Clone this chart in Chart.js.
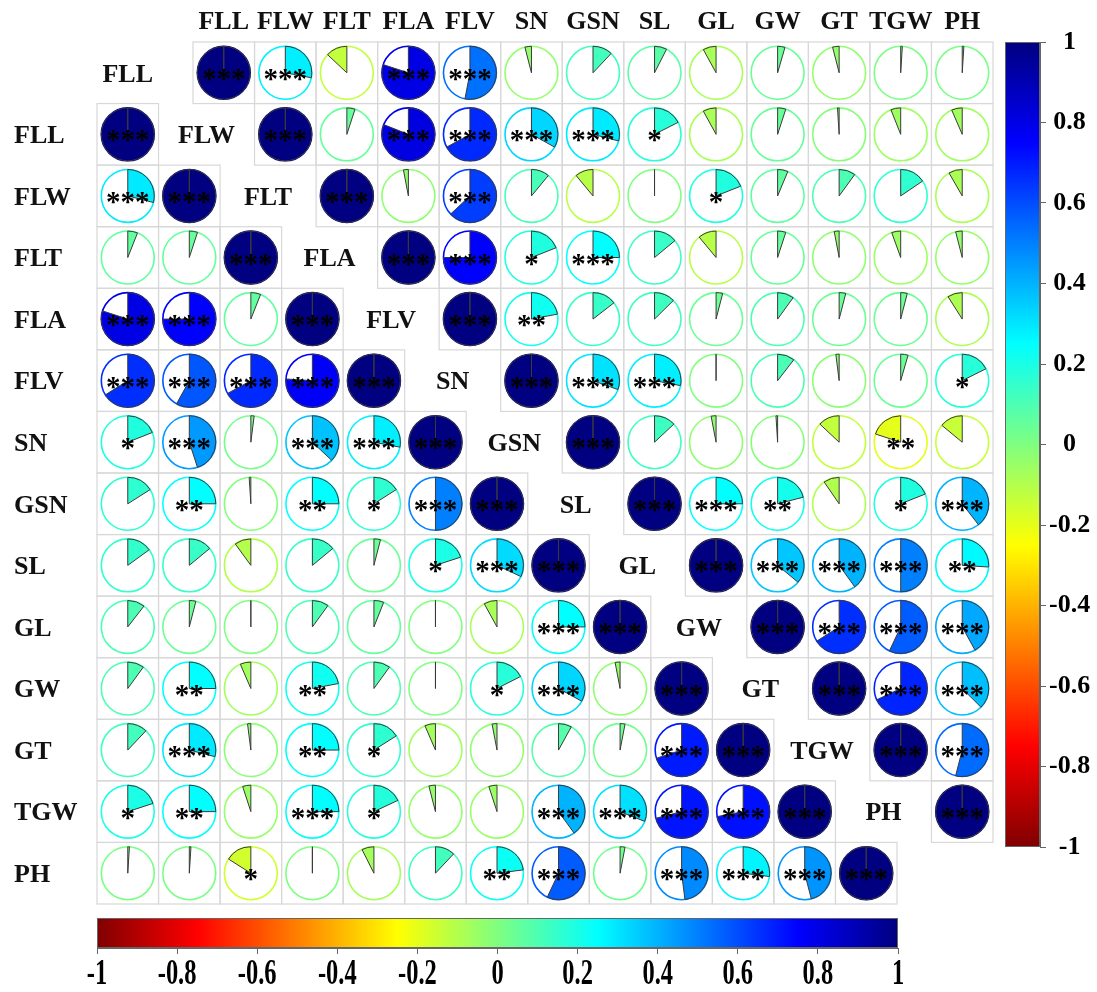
<!DOCTYPE html>
<html lang="pt-BR">
<head>
<meta charset="utf-8">
<title>Matriz de correlação</title>
<script src="https://cdn.jsdelivr.net/npm/chart.js@4.4.1/dist/chart.umd.min.js"></script>
<style>
  body { margin: 0; background: #fff; }
  #quadro { position: relative; width: 1097px; height: 992px; }
  #quadro canvas { position: absolute; }
</style>
</head>
<body>
<div id="quadro">
  <canvas id="graficoMatriz" width="1097" height="992" style="left:0;top:0"></canvas>
  <canvas id="barraDireita" width="107" height="992" style="left:990px;top:0"></canvas>
  <canvas id="barraInferior" width="1097" height="92" style="left:0;top:900px"></canvas>
</div>
<script>
// Variáveis
const variaveis = ["FLL", "FLW", "FLT", "FLA", "FLV", "SN", "GSN", "SL", "GL", "GW", "GT", "TGW", "PH"];

// Matriz superior: linha i, colunas j > i
const corrSuperior = [
  [0.28, -0.13, 0.80, 0.53, -0.04, 0.12, 0.075, -0.08, 0.045, -0.04, 0.01, 0.01],
  [0.05, 0.81, 0.67, 0.33, 0.29, 0.175, -0.08, 0.05, -0.01, -0.06, -0.065],
  [-0.03, 0.63, 0.11, -0.11, 0.0, 0.19, 0.063, 0.10, 0.155, -0.083],
  [0.75, 0.19, 0.25, 0.14, -0.11, 0.05, -0.03, -0.055, -0.04],
  [0.22, 0.145, 0.126, 0.04, 0.10, 0.04, 0.04, -0.09],
  [0.305, 0.28, 0.0, 0.105, -0.02, 0.045, 0.176],
  [0.13, -0.03, -0.01, -0.13, -0.20, -0.14],
  [0.25, 0.21, -0.096, 0.19, 0.395],
  [0.36, 0.40, 0.50, 0.26],
  [0.66, 0.57, 0.42],
  [0.68, 0.375],
  [0.54],
  []
];
const sigSuperior = [
  ["***", "", "***", "***", "", "", "", "", "", "", "", ""],
  ["", "***", "***", "***", "***", "*", "", "", "", "", ""],
  ["", "***", "", "", "", "*", "", "", "", ""],
  ["***", "*", "***", "", "", "", "", "", ""],
  ["**", "", "", "", "", "", "", ""],
  ["***", "***", "", "", "", "", "*"],
  ["", "", "", "", "**", ""],
  ["***", "**", "", "*", "***"],
  ["***", "***", "***", "**"],
  ["***", "***", "***"],
  ["***", "***"],
  ["***"],
  []
];

// Matriz inferior: linha i, colunas j < i
const corrInferior = [
  [],
  [0.29],
  [0.06, 0.05],
  [0.80, 0.75, 0.06],
  [0.66, 0.58, 0.67, 0.76],
  [0.19, 0.45, 0.02, 0.37, 0.28],
  [0.16, 0.25, -0.01, 0.25, 0.16, 0.50],
  [0.15, 0.14, -0.10, 0.14, 0.04, 0.20, 0.32],
  [0.105, 0.04, 0.0, 0.10, 0.06, 0.0, -0.08, 0.25],
  [0.10, 0.25, -0.065, 0.22, 0.10, 0.0, 0.175, 0.33, -0.03],
  [0.12, 0.29, -0.02, 0.25, 0.16, -0.065, -0.03, 0.08, 0.03, 0.70],
  [0.20, 0.25, -0.05, 0.25, 0.18, -0.04, -0.05, 0.40, 0.31, 0.71, 0.72],
  [0.01, 0.01, -0.16, 0.0, -0.074, 0.12, 0.23, 0.57, 0.03, 0.48, 0.27, 0.46]
];
const sigInferior = [
  [],
  ["***"],
  ["", ""],
  ["***", "***", ""],
  ["***", "***", "***", "***"],
  ["*", "***", "", "***", "***"],
  ["", "**", "", "**", "*", "***"],
  ["", "", "", "", "", "*", "***"],
  ["", "", "", "", "", "", "", "***"],
  ["", "**", "", "**", "", "", "*", "***", ""],
  ["", "***", "", "**", "*", "", "", "", "", "***"],
  ["*", "**", "", "***", "*", "", "", "***", "***", "***", "***"],
  ["", "", "*", "", "", "", "**", "***", "", "***", "***", "***"]
];

// Barras de cores
const ticksBarra = [-1, -0.8, -0.6, -0.4, -0.2, 0, 0.2, 0.4, 0.6, 0.8, 1];
const rotulosBarra = ["-1", "-0.8", "-0.6", "-0.4", "-0.2", "0", "0.2", "0.4", "0.6", "0.8", "1"];

const FONTE = '"Liberation Serif", "Times New Roman", serif';
const DESLOC = 1.56; // deslocamento horizontal da matriz superior (em células)

// Mapa de cores tipo "jet": +1 azul escuro, -1 vermelho escuro
function corJet(r) {
  const t = (1 - r) / 2;
  const c = v => Math.round(255 * Math.min(1, Math.max(0, v)));
  return `rgb(${c(1.5 - Math.abs(4 * t - 3))},${c(1.5 - Math.abs(4 * t - 2))},${c(1.5 - Math.abs(4 * t - 1))})`;
}

// Montar pontos das duas matrizes
const pontosSup = [];
const pontosInf = [];
variaveis.forEach((nome, i) => {
  for (let j = i; j < variaveis.length; j++) {
    const diag = j === i;
    pontosSup.push({ x: j + DESLOC, y: i, r: diag ? 1 : corrSuperior[i][j - i - 1], sig: diag ? "***" : sigSuperior[i][j - i - 1] });
  }
  for (let j = 0; j <= i; j++) {
    const diag = j === i;
    pontosInf.push({ x: j, y: i + 1, r: diag ? 1 : corrInferior[i][j], sig: diag ? "***" : sigInferior[i][j] });
  }
});

// Desenhar uma pizza
function desenharPizza(ctx, x, y, raio, r) {
  const cor = corJet(r);
  ctx.beginPath();
  ctx.arc(x, y, raio, 0, 2 * Math.PI);
  ctx.strokeStyle = cor;
  ctx.lineWidth = 1.6;
  ctx.stroke();

  const ini = -Math.PI / 2;
  ctx.beginPath();
  ctx.moveTo(x, y);
  ctx.arc(x, y, raio, ini, ini + r * 2 * Math.PI, r < 0);
  ctx.closePath();
  ctx.fillStyle = cor;
  ctx.fill();
  ctx.strokeStyle = "#3a3a3a";
  ctx.lineWidth = 1;
  ctx.stroke();
}

const pluginMatriz = {
  id: "matriz",
  beforeDatasetsDraw(chart) {
    const { ctx, scales: { x, y } } = chart;
    ctx.save();
    ctx.strokeStyle = "#d8d8d8";
    ctx.lineWidth = 1.2;
    chart.data.datasets.forEach(ds => ds.data.forEach(p => {
      const x0 = x.getPixelForValue(p.x - 0.5);
      const y0 = y.getPixelForValue(p.y - 0.5);
      ctx.strokeRect(x0, y0, x.getPixelForValue(p.x + 0.5) - x0, y.getPixelForValue(p.y + 0.5) - y0);
    }));
    ctx.restore();
  },
  afterDatasetsDraw(chart) {
    const { ctx, scales: { x } } = chart;
    const raio = (x.getPixelForValue(1) - x.getPixelForValue(0)) * 0.43;
    ctx.save();
    chart.data.datasets.forEach((ds, k) => {
      chart.getDatasetMeta(k).data.forEach((el, n) => {
        const p = ds.data[n];
        desenharPizza(ctx, el.x, el.y, raio, p.r);
        if (p.sig) {
          ctx.fillStyle = "#000";
          ctx.font = `bold 29px ${FONTE}`;
          ctx.textAlign = "center";
          ctx.textBaseline = "alphabetic";
          ctx.fillText(p.sig, el.x, el.y + 15);
        }
      });
    });
    ctx.restore();
  },
  afterDraw(chart) {
    const { ctx, scales: { x, y } } = chart;
    ctx.save();
    ctx.fillStyle = "#111";
    ctx.font = `bold 26px ${FONTE}`;
    ctx.textBaseline = "middle";
    variaveis.forEach((nome, i) => {
      // cabeçalho das colunas
      ctx.textAlign = "center";
      ctx.fillText(nome, x.getPixelForValue(i + DESLOC), y.getPixelForValue(-0.5) - 20);
      // rótulo da diagonal superior
      const xd = i === 0 ? 0 : i + (DESLOC - 1) / 2;
      ctx.fillText(nome, x.getPixelForValue(xd), y.getPixelForValue(i) + 2);
      // rótulo das linhas à esquerda
      ctx.textAlign = "left";
      ctx.fillText(nome, x.getPixelForValue(-0.5) - 83, y.getPixelForValue(i + 1) + 2);
    });
    ctx.restore();
  }
};

new Chart(document.getElementById("graficoMatriz"), {
  type: "scatter",
  data: {
    datasets: [
      { label: "superior", data: pontosSup, pointRadius: 0, pointHitRadius: 0 },
      { label: "inferior", data: pontosInf, pointRadius: 0, pointHitRadius: 0 }
    ]
  },
  options: {
    responsive: false,
    animation: false,
    events: [],
    layout: { padding: { left: 97, right: 104, top: 42, bottom: 88 } },
    plugins: { legend: { display: false }, tooltip: { enabled: false } },
    scales: {
      x: { type: "linear", min: -0.5, max: 12.5 + DESLOC, display: false },
      y: { type: "linear", min: -0.5, max: 13.5, reverse: true, display: false }
    }
  },
  plugins: [pluginMatriz]
});

// Gradiente das barras de cores
const pluginGradiente = {
  id: "gradiente",
  beforeDatasetsDraw(chart) {
    const { ctx, chartArea: a } = chart;
    const vertical = chart.canvas.id === "barraDireita";
    const g = vertical
      ? ctx.createLinearGradient(0, a.top, 0, a.bottom)
      : ctx.createLinearGradient(a.right, 0, a.left, 0);
    [[0, "#000080"], [0.125, "#0000ff"], [0.375, "#00ffff"], [0.625, "#ffff00"], [0.875, "#ff0000"], [1, "#800000"]]
      .forEach(([s, c]) => g.addColorStop(s, c));
    ctx.save();
    ctx.fillStyle = g;
    ctx.fillRect(a.left, a.top, a.width, a.height);
    ctx.strokeStyle = "#666";
    ctx.lineWidth = 1;
    ctx.strokeRect(a.left + 0.5, a.top + 0.5, a.width - 1, a.height - 1);
    ctx.restore();
  }
};

// Rótulos da barra inferior (fonte estreita)
const pluginRotulosInf = {
  id: "rotulosInf",
  afterDraw(chart) {
    const { ctx, scales: { x }, chartArea: a } = chart;
    ctx.save();
    ctx.fillStyle = "#000";
    ctx.font = `bold 36px ${FONTE}`;
    ctx.textAlign = "center";
    ctx.textBaseline = "alphabetic";
    ticksBarra.forEach((v, k) => {
      ctx.save();
      ctx.translate(x.getPixelForValue(v), a.bottom + 36);
      ctx.scale(0.68, 1);
      ctx.fillText(rotulosBarra[k], 0, 0);
      ctx.restore();
    });
    ctx.restore();
  }
};

new Chart(document.getElementById("barraDireita"), {
  type: "scatter",
  data: { datasets: [] },
  options: {
    responsive: false,
    animation: false,
    events: [],
    layout: { padding: { left: 15, right: 0, top: 42, bottom: 145 } },
    plugins: { legend: { display: false }, tooltip: { enabled: false } },
    scales: {
      x: { display: false },
      y: {
        min: -1, max: 1, position: "right",
        afterBuildTicks: s => { s.ticks = ticksBarra.map(v => ({ value: v })); },
        afterFit: s => { s.width = 57; },
        grid: { drawOnChartArea: false, tickLength: 6, color: "#666" },
        border: { color: "#666" },
        ticks: {
          autoSkip: false, crossAlign: "center", color: "#000", padding: 3,
          font: { family: FONTE, size: 26, weight: "bold" },
          callback: v => rotulosBarra[ticksBarra.indexOf(v)]
        }
      }
    }
  },
  plugins: [pluginGradiente]
});

new Chart(document.getElementById("barraInferior"), {
  type: "scatter",
  data: { datasets: [] },
  options: {
    responsive: false,
    animation: false,
    events: [],
    layout: { padding: { left: 97, right: 199, top: 18, bottom: 0 } },
    plugins: { legend: { display: false }, tooltip: { enabled: false } },
    scales: {
      y: { display: false },
      x: {
        min: -1, max: 1, position: "bottom",
        afterBuildTicks: s => { s.ticks = ticksBarra.map(v => ({ value: v })); },
        afterFit: s => { s.height = 44; },
        grid: { drawOnChartArea: false, tickLength: 6, color: "#666" },
        border: { color: "#666" },
        ticks: { display: false }
      }
    }
  },
  plugins: [pluginGradiente, pluginRotulosInf]
});
</script>
</body>
</html>
